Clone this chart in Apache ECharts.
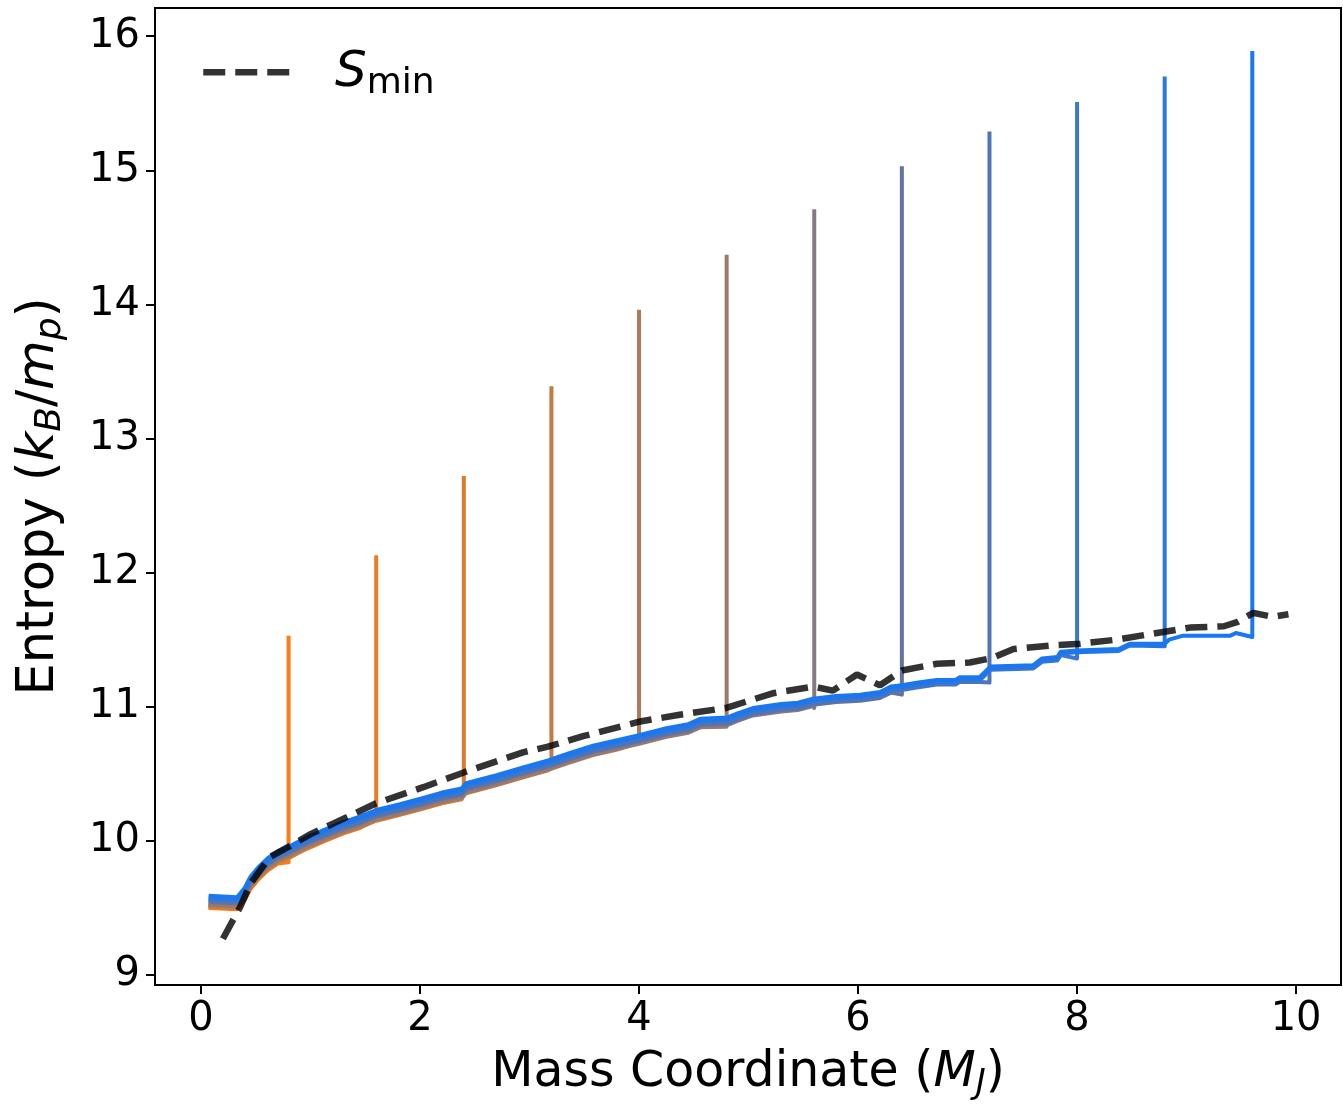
<!DOCTYPE html>
<html>
<head>
<meta charset="utf-8">
<script src="https://cdn.jsdelivr.net/npm/echarts@6/dist/echarts.min.js"></script>
<style>
html,body{margin:0;padding:0;background:#fff;}
#chart{width:1343px;height:1106px;}
</style>
</head>
<body>
<div id="chart"></div>
<script>
// ---- data ----
const xTicks = [0, 2, 4, 6, 8, 10];
const yTicks = [9, 10, 11, 12, 13, 14, 15, 16];

// base (bluest) entropy profile: mass coordinate, entropy
const baseMass = [0.07, 0.33, 0.40, 0.45, 0.52, 0.61, 0.70, 0.81, 0.95, 1.12, 1.30, 1.45, 1.60, 1.80, 2.03, 2.20, 2.38, 2.42, 2.70, 2.95, 3.17, 3.35, 3.58, 3.80, 4.01, 4.25, 4.45, 4.56, 4.81, 4.90, 5.04, 5.30, 5.45, 5.59, 5.80, 6.02, 6.20, 6.30, 6.40, 6.55, 6.72, 6.89, 6.93, 7.11, 7.21, 7.60, 7.68, 7.82, 7.85, 8.00, 8.38, 8.48, 8.80, 8.84, 8.97, 9.40, 9.45, 9.60];
const baseEntropy = [9.59, 9.58, 9.65, 9.73, 9.80, 9.87, 9.92, 9.96, 10.02, 10.08, 10.14, 10.18, 10.23, 10.27, 10.32, 10.36, 10.39, 10.43, 10.49, 10.55, 10.60, 10.65, 10.71, 10.75, 10.79, 10.84, 10.87, 10.91, 10.92, 10.95, 10.99, 11.02, 11.03, 11.06, 11.08, 11.09, 11.11, 11.15, 11.16, 11.18, 11.20, 11.20, 11.22, 11.22, 11.30, 11.31, 11.36, 11.37, 11.41, 11.42, 11.43, 11.47, 11.47, 11.50, 11.53, 11.53, 11.55, 11.55];

// per-profile values (one profile per outer mass)
const profileEnd = [0.8, 1.6, 2.4, 3.2, 4.0, 4.8, 5.6, 6.4, 7.2, 8.0, 8.8, 9.6];
const profileShift = [-0.09, -0.085, -0.08, -0.075, -0.07, -0.064, -0.055, -0.045, -0.035, -0.025, -0.014, 0];
const profileFoot = [9.84, 10.16, 10.36, 10.55, 10.73, 10.85, 10.99, 11.09, 11.18, 11.36, 11.45, 11.52];
const profileSpike = [11.53, 12.13, 12.72, 13.39, 13.96, 14.37, 14.71, 15.03, 15.29, 15.51, 15.70, 15.89];

// minimum entropy curve
const sminMass = [0.20, 0.36, 0.45, 0.63, 0.81, 1.00, 1.21, 1.60, 2.03, 2.40, 2.94, 3.16, 3.49, 4.01, 4.37, 4.79, 5.22, 5.59, 5.77, 5.99, 6.20, 6.40, 6.72, 7.02, 7.21, 7.42, 7.81, 8.03, 8.36, 8.73, 9.03, 9.34, 9.46, 9.61, 9.79, 9.93];
const sminEntropy = [9.27, 9.51, 9.68, 9.88, 9.96, 10.05, 10.13, 10.28, 10.40, 10.51, 10.66, 10.70, 10.78, 10.89, 10.94, 10.99, 11.10, 11.15, 11.12, 11.24, 11.16, 11.27, 11.32, 11.33, 11.36, 11.43, 11.46, 11.47, 11.50, 11.55, 11.59, 11.60, 11.63, 11.70, 11.67, 11.69];

// ---- styles ----
const profileColors = ['#fb7d17', '#ec7c22', '#d97b30', '#c47a45', '#ae7a5a', '#9a7a6e', '#857a84', '#63729f', '#4e75b8', '#3c78cc', '#2877e0', '#1a77f2'];
const FONT = 'DejaVu Sans';
const DASH_COLOR = 'rgba(0,0,0,0.8)';

const series = [];
profileEnd.forEach((end, k) => {
  const pts = [];
  for (let i = 0; i < baseMass.length; i++) {
    if (baseMass[i] < end - 0.005) pts.push([baseMass[i], baseEntropy[i] + profileShift[k]]);
  }
  pts.push([end, profileFoot[k]]);
  pts.push([end, profileSpike[k]]);
  series.push({
    type: 'line', name: 'p' + k, data: pts, symbol: 'none', silent: true,
    lineStyle: { color: profileColors[k], width: 4, join: 'round' },
    itemStyle: { color: profileColors[k] }, z: 2
  });
});
series.push({
  type: 'line', name: 'Smin',
  data: sminMass.map((m, i) => [m, sminEntropy[i]]),
  symbol: 'none', silent: true, z: 3,
  lineStyle: { color: DASH_COLOR, width: 6.5, type: [22, 10] },
  itemStyle: { color: DASH_COLOR }
});

function titleRich(size) {
  return {
    n: { fontFamily: FONT, fontSize: size, color: '#000' },
    i: { fontFamily: FONT, fontSize: size, fontStyle: 'italic', color: '#000' },
    s: { fontFamily: FONT, fontSize: Math.round(size * 0.7), fontStyle: 'italic', color: '#000', padding: [22, 0, 0, 0] }
  };
}

const chart = echarts.init(document.getElementById('chart'), null, { renderer: 'canvas' });
chart.setOption({
  animation: false,
  backgroundColor: '#fff',
  grid: { left: 155, right: 2, top: 8, bottom: 121, show: true, borderColor: '#000', borderWidth: 2, backgroundColor: 'transparent' },
  graphic: [
    { type: 'line', left: 200, top: 69, shape: { x1: 0, y1: 0, x2: 88, y2: 0 },
      style: { stroke: DASH_COLOR, lineWidth: 6.5, lineDash: [22, 10] }, z: 10 },
    { type: 'text', left: 335, top: 48, z: 10,
      style: { text: '{i|S}{s|min}', rich: {
        i: { fontFamily: FONT, fontStyle: 'italic', fontSize: 50, fill: '#000' },
        s: { fontFamily: FONT, fontSize: 36, fill: '#000', padding: [22, 0, 0, 0] }
      } } }
  ],
  xAxis: {
    type: 'value', min: -0.42, max: 10.41,
    name: '{n|Mass Coordinate (}{i|M}{s|J}{n|)}', nameLocation: 'middle', nameGap: 60,
    nameTextStyle: { rich: titleRich(49) },
    axisLine: { onZero: false, lineStyle: { color: '#000', width: 2 } },
    axisTick: { show: true, length: 9, customValues: xTicks, lineStyle: { color: '#000', width: 2 } },
    axisLabel: { customValues: xTicks, fontFamily: FONT, fontSize: 40, color: '#000', margin: 15 },
    splitLine: { show: false }
  },
  yAxis: {
    type: 'value', min: 8.925, max: 16.21,
    name: '{n|Entropy (}{i|k}{s|B}{n|/}{i|m}{s|p}{n|)}', nameLocation: 'middle', nameGap: 86, nameRotate: 90,
    nameTextStyle: { rich: titleRich(51) },
    axisLine: { onZero: false, lineStyle: { color: '#000', width: 2 } },
    axisTick: { show: true, length: 9, customValues: yTicks, lineStyle: { color: '#000', width: 2 } },
    axisLabel: { customValues: yTicks, fontFamily: FONT, fontSize: 40, color: '#000', margin: 15 },
    splitLine: { show: false }
  },
  series: series
});
</script>
</body>
</html>
